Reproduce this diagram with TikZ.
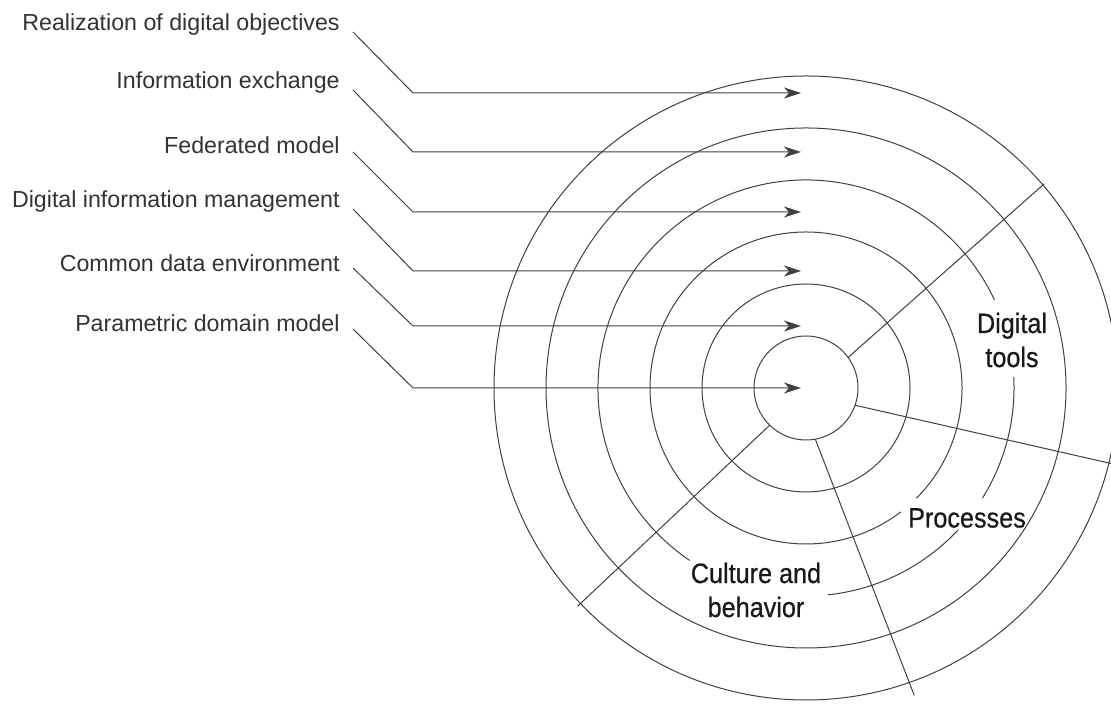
\documentclass[tikz,border=0pt]{standalone}
\usepackage{fontspec}
\setmainfont{Liberation Sans}
\newfontfamily\ringfont{Liberation Sans}[FakeStretch=0.9,FakeBold=0.6]
\usetikzlibrary{arrows.meta,calc}

\begin{document}
\begin{tikzpicture}[x=0.5pt,y=0.5pt,
	ring/.style={draw=black!75,line width=0.5pt},
	spoke/.style={draw=black!75,line width=0.5pt},
	lead/.style={draw=black!75,line width=0.5pt,-{Stealth[length=8.5pt,width=5.5pt,inset=2.5pt]}},
	tag/.style={anchor=east,inner sep=0pt,text=black!80,font=\fontsize{11.6}{14}\selectfont},
	ringlabel/.style={inner sep=0pt,align=center,text=black!90,font=\ringfont\fontsize{14}{17}\selectfont}]

	\clip (0,0) rectangle (1111,704);

	% rings, broken where the ring labels sit
	\coordinate (c) at (806,316);
	\foreach \r in {52,104,260,312}
		\draw[ring] (c) circle (\r);
	\draw[ring] (c) ++(-45:156) arc[start angle=-45, end angle=307.4, radius=156];
	\draw[ring] (c) ++(25:208)  arc[start angle=25,  end angle=236,   radius=208];
	\draw[ring] (c) ++(276:208) arc[start angle=276, end angle=317,   radius=208];
	\draw[ring] (c) ++(328:208) arc[start angle=328, end angle=363,   radius=208];

	\draw[spoke] ($(c)+(36:52)$)    -- ($(c)+(40.6:314)$);
	\draw[spoke] ($(c)+(-19.4:52)$) -- ($(c)+(-13.9:316)$);
	\draw[spoke] ($(c)+(-79.7:52)$) -- ($(c)+(-70.6:326)$);
	\draw[spoke] ($(c)+(225.7:52)$) -- ($(c)+(223.7:316)$);

	\node[ringlabel] (tools)     at (1012,364) {Digital\\tools};
	\node[ringlabel] (processes) at (967,186)  {Processes};
	\node[ringlabel] (culture)   at (756,114)  {Culture and\\behavior};

	% labels on the left
	\node[tag] (realize)    at (340,679) {Realization of digital objectives};
	\node[tag] (exchange)   at (340,621) {Information exchange};
	\node[tag] (federated)  at (340,559) {Federated model};
	\node[tag] (management) at (340,502) {Digital information management};
	\node[tag] (cde)        at (340,441) {Common data environment};
	\node[tag] (parametric) at (340,381) {Parametric domain model};

	\coordinate (elbow) at (413,0);
	\coordinate (realize-tip)    at (801,611);
	\coordinate (exchange-tip)   at (801,552);
	\coordinate (federated-tip)  at (801,492);
	\coordinate (management-tip) at (801,433);
	\coordinate (cde-tip)        at (801,378);
	\coordinate (parametric-tip) at (801,316);

	\draw[lead] ($(realize.east)+(13,-7)$)    -- (realize-tip -| elbow)    -- (realize-tip);
	\draw[lead] ($(exchange.east)+(13,-7)$)   -- (exchange-tip -| elbow)   -- (exchange-tip);
	\draw[lead] ($(federated.east)+(13,-7)$)  -- (federated-tip -| elbow)  -- (federated-tip);
	\draw[lead] ($(management.east)+(13,-7)$) -- (management-tip -| elbow) -- (management-tip);
	\draw[lead] ($(cde.east)+(13,-5)$)        -- (cde-tip -| elbow)        -- (cde-tip);
	\draw[lead] ($(parametric.east)+(13,-6)$) -- (parametric-tip -| elbow) -- (parametric-tip);

\end{tikzpicture}
\end{document}
